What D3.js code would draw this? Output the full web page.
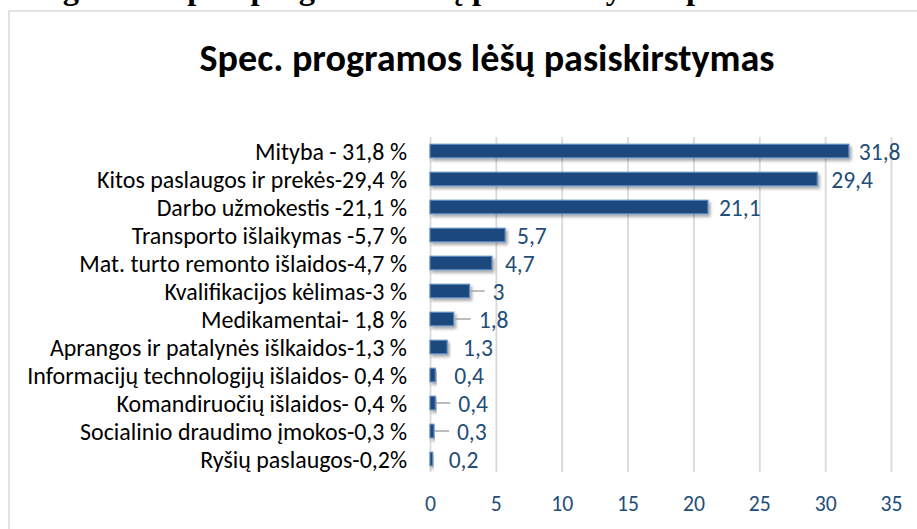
<!DOCTYPE html>
<html><head><meta charset="utf-8">
<script src="https://cdn.jsdelivr.net/npm/d3@7"></script>
<style>body{margin:0;background:#fff;overflow:hidden}</style></head>
<body>
<svg id="c" width="917" height="529"></svg>
<script>
// ---------- data ----------
const categories = [
  "Mityba - 31,8 %",
  "Kitos paslaugos ir prekės-29,4 %",
  "Darbo užmokestis -21,1 %",
  "Transporto išlaikymas -5,7 %",
  "Mat. turto remonto išlaidos-4,7 %",
  "Kvalifikacijos kėlimas-3 %",
  "Medikamentai- 1,8 %",
  "Aprangos ir patalynės išlkaidos-1,3 %",
  "Informacijų technologijų išlaidos- 0,4 %",
  "Komandiruočių išlaidos- 0,4 %",
  "Socialinio draudimo įmokos-0,3 %",
  "Ryšių paslaugos-0,2%"
];
const values = [31.8, 29.4, 21.1, 5.7, 4.7, 3, 1.8, 1.3, 0.4, 0.4, 0.3, 0.2];
const valueLabels = ["31,8","29,4","21,1","5,7","4,7","3","1,8","1,3","0,4","0,4","0,3","0,2"];
const xTicks = [0, 5, 10, 15, 20, 25, 30, 35];
const chartTitle = "Spec. programos lėšų pasiskirstymas";
const pageHeading = "Diagrama. Spec. programos lėšų pasiskirstymas procentais";

// ---------- layout (not data) ----------
const labelGap = [10, 14, 11, 12, 13, 23, 25, 16, 19, 23, 23, 16];
const hasLeader = [false, false, false, false, false, true, true, false, false, true, true, false];

const svg = d3.select("#c");
const plot = {left: 430, right: 891, top: 137, bottom: 473};

const defs = svg.append("defs");
const f = defs.append("filter").attr("id","sh").attr("x","-20%").attr("y","-50%").attr("width","140%").attr("height","220%");
f.append("feDropShadow").attr("dx",2).attr("dy",2.5).attr("stdDeviation",1.6)
  .attr("flood-color","#000").attr("flood-opacity",0.35);

// page heading of the document (only its lower part is in view, as in the reference)
svg.append("text").attr("x", 14).attr("y", -1.5)
  .attr("font-family","'Liberation Serif','Times New Roman',serif")
  .attr("font-weight","bold").attr("font-size",32.5).attr("fill","#000")
  .text(pageHeading);

// chart frame
svg.append("rect").attr("x", 9).attr("y", 11).attr("width", 1000).attr("height", 600)
  .attr("fill","#fff").attr("stroke","#d9d9d9").attr("stroke-width",1.5);

const FONT = "Carlito, Calibri, Lato, sans-serif";
function fit(sel, target) {
  const w = sel.node().getComputedTextLength();
  const fs = parseFloat(sel.attr("font-size"));
  sel.attr("font-size", fs * target / w);
}

// title
const t = svg.append("text").attr("x", 487).attr("y", 71).attr("text-anchor","middle")
  .attr("font-family", FONT).attr("font-weight","bold").attr("font-size", 30)
  .attr("fill","#000").text(chartTitle);
fit(t, 575);

const x = d3.scaleLinear().domain([0, 35]).range([plot.left, plot.right]);
const y = d3.scaleBand().domain(categories).range([plot.top, plot.bottom])
  .paddingInner(0.52).paddingOuter(0.26);

// gridlines
const grid = svg.append("g").attr("transform", `translate(0,${plot.bottom - 1})`)
  .call(d3.axisBottom(x).tickValues(xTicks).tickSize(-(plot.bottom - 1 - plot.top)).tickFormat(""));
grid.select(".domain").remove();
grid.selectAll(".tick line").attr("stroke","#d9d9d9").attr("stroke-width",1.8);

// x tick labels
const xa = svg.append("g").attr("transform", `translate(0,${plot.bottom + 20})`)
  .call(d3.axisBottom(x).tickValues(xTicks).tickSize(0).tickFormat(d => String(d)));
xa.select(".domain").remove();
xa.selectAll("text").attr("font-family", FONT).attr("font-size", 20).attr("fill","#1f4e79")
  .attr("dy","0.71em");
{
  const last = xa.selectAll("text").filter(d => d === 35);
  const w = last.node().getComputedTextLength();
  xa.selectAll("text").attr("font-size", 20 * 22 / w);
}

// category labels
const cl = svg.append("g").selectAll("text").data(categories).join("text")
  .attr("x", 407).attr("y", d => y(d) + y.bandwidth() / 2)
  .attr("text-anchor","end").attr("dominant-baseline","central")
  .attr("font-family", FONT).attr("font-size", 20).attr("fill","#000")
  .text(d => d);
{
  const w = cl.filter((d, i) => i === 8).node().getComputedTextLength();
  cl.attr("font-size", 20 * 380 / w);
}

// bars
svg.append("g").selectAll("rect").data(values).join("rect")
  .attr("x", x(0))
  .attr("y", (d, i) => y(categories[i]))
  .attr("width", d => x(d) - x(0))
  .attr("height", y.bandwidth())
  .attr("fill","#1f497d").attr("stroke","#5a86bf").attr("stroke-width",1.2)
  .attr("filter","url(#sh)");

// leader lines
svg.append("g").selectAll("line").data(values.map((v, i) => ({v, i})).filter(d => hasLeader[d.i])).join("line")
  .attr("x1", d => x(d.v) + 1).attr("x2", d => x(d.v) + labelGap[d.i] - 8)
  .attr("y1", d => y(categories[d.i]) + y.bandwidth() / 2)
  .attr("y2", d => y(categories[d.i]) + y.bandwidth() / 2)
  .attr("stroke","#a6a6a6").attr("stroke-width",1.5);

// value labels
const vl = svg.append("g").selectAll("text").data(values).join("text")
  .attr("x", (d, i) => x(d) + labelGap[i])
  .attr("y", (d, i) => y(categories[i]) + y.bandwidth() / 2 + 1)
  .attr("dominant-baseline","central")
  .attr("font-family", FONT).attr("font-size", 20).attr("fill","#1f4e79")
  .text((d, i) => valueLabels[i]);
{
  const w = vl.filter((d, i) => i === 0).node().getComputedTextLength();
  vl.attr("font-size", 20 * 41.7 / w);
}
</script>
</body></html>
